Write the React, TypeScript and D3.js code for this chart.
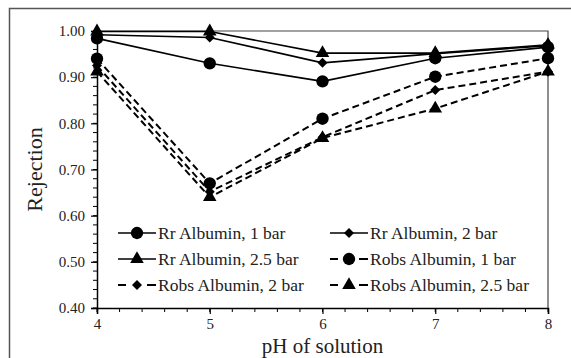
import { useRef, useEffect } from 'react';
import * as d3 from 'd3';

const phValues = [4, 5, 6, 7, 8];
const rrAlb1 = [0.984, 0.93, 0.891, 0.941, 0.965];
const rrAlb2 = [0.992, 0.986, 0.931, 0.951, 0.968];
const rrAlb25 = [0.999, 0.999, 0.952, 0.952, 0.97];
const robsAlb1 = [0.94, 0.67, 0.81, 0.901, 0.941];
const robsAlb2 = [0.925, 0.652, 0.77, 0.872, 0.912];
const robsAlb25 = [0.912, 0.64, 0.768, 0.832, 0.912];
const yTicks = [0.4, 0.5, 0.6, 0.7, 0.8, 0.9, 1.0];

type Sym = 'circle' | 'diamond' | 'triangle';
interface Series { name: string; values: number[]; symbol: Sym; dashed: boolean; }

const series: Series[] = [
  { name: 'Rr Albumin, 1 bar', values: rrAlb1, symbol: 'circle', dashed: false },
  { name: 'Rr Albumin, 2 bar', values: rrAlb2, symbol: 'diamond', dashed: false },
  { name: 'Rr Albumin, 2.5 bar', values: rrAlb25, symbol: 'triangle', dashed: false },
  { name: 'Robs Albumin, 1 bar', values: robsAlb1, symbol: 'circle', dashed: true },
  { name: 'Robs Albumin, 2 bar', values: robsAlb2, symbol: 'diamond', dashed: true },
  { name: 'Robs Albumin, 2.5 bar', values: robsAlb25, symbol: 'triangle', dashed: true },
];

const symbolGen = (s: Sym) => {
  if (s === 'circle') return d3.symbol(d3.symbolCircle, 120)();
  if (s === 'diamond') return d3.symbol(d3.symbolSquare, 50)();
  return d3.symbol(d3.symbolTriangle, 80)();
};
const symbolRot = (s: Sym) => (s === 'diamond' ? ' rotate(45)' : '');

export default function App() {
  const svgRef = useRef<SVGSVGElement>(null);

  useEffect(() => {
    if (!svgRef.current) return;
    const svg = d3.select(svgRef.current);
    svg.selectAll('*').remove();

    const width = 571;
    const margin = { top: 31, right: 23, left: 97 };
    const innerWidth = width - margin.left - margin.right;
    const innerHeight = 308 - margin.top;
    const font = '"Liberation Serif", "Times New Roman", serif';

    // outer frame
    svg.append('rect')
      .attr('x', 9.5).attr('y', 8.5)
      .attr('width', 600).attr('height', 400)
      .attr('fill', '#fff').attr('stroke', '#555').attr('stroke-width', 1.5);

    const x = d3.scaleLinear().domain([4, 8]).range([0, innerWidth]);
    const y = d3.scaleLinear().domain([0.4, 1.0]).range([innerHeight, 0]);

    const g = svg.append('g').attr('transform', `translate(${margin.left},${margin.top})`);

    // plot frame (top & right)
    g.append('path')
      .attr('d', `M0,0H${innerWidth}V${innerHeight}`)
      .attr('fill', 'none').attr('stroke', '#444').attr('stroke-width', 1.2);

    // minor ticks
    const yMinor = d3.range(0.4, 1.0001, 0.02);
    g.selectAll('.ymin').data(yMinor).enter().append('line')
      .attr('x1', -4).attr('x2', 0)
      .attr('y1', d => y(d)).attr('y2', d => y(d))
      .attr('stroke', '#000').attr('stroke-width', 1);
    const xMinor = d3.range(4, 8.0001, 0.2);
    g.selectAll('.xmin').data(xMinor).enter().append('line')
      .attr('x1', d => x(d)).attr('x2', d => x(d))
      .attr('y1', innerHeight).attr('y2', innerHeight + 4)
      .attr('stroke', '#000').attr('stroke-width', 1);

    // axes
    const yAxis = g.append('g')
      .call(d3.axisLeft(y).tickValues(yTicks).tickFormat(d3.format('.2f')).tickSize(6).tickPadding(6));
    const xAxis = g.append('g')
      .attr('transform', `translate(0,${innerHeight})`)
      .call(d3.axisBottom(x).tickValues(phValues).tickFormat(d3.format('d')).tickSize(6).tickPadding(4));
    [xAxis, yAxis].forEach(a => {
      a.select('.domain').attr('stroke', '#000').attr('stroke-width', 1.5);
      a.selectAll('text').attr('font-family', font).attr('font-size', 15).attr('fill', '#222');
      a.selectAll('.tick line').attr('stroke', '#000').attr('stroke-width', 1.2);
    });

    // series lines
    series.forEach(s => {
      const line = d3.line<number>().x((_, i) => x(phValues[i])).y(d => y(d));
      g.append('path')
        .datum(s.values)
        .attr('fill', 'none')
        .attr('stroke', '#000')
        .attr('stroke-width', s.dashed ? 2 : 1.6)
        .attr('stroke-dasharray', s.dashed ? '7,4' : null)
        .attr('d', line);
    });
    series.forEach(s => {
      g.selectAll(null).data(s.values).enter().append('path')
        .attr('transform', (d, i) => `translate(${x(phValues[i])},${y(d)})${symbolRot(s.symbol)}`)
        .attr('d', symbolGen(s.symbol))
        .attr('fill', '#000');
    });

    // legend
    const colX = [118, 330];
    const rowY = [233, 259, 285];
    series.forEach((s, i) => {
      const lx = colX[i % 2];
      const ly = rowY[Math.floor(i / 2)];
      const lg = svg.append('g').attr('transform', `translate(${lx},${ly})`);
      if (s.dashed) {
        lg.append('line').attr('x1', 0).attr('x2', 8).attr('y1', 0).attr('y2', 0)
          .attr('stroke', '#000').attr('stroke-width', 2);
        lg.append('line').attr('x1', 29).attr('x2', 38).attr('y1', 0).attr('y2', 0)
          .attr('stroke', '#000').attr('stroke-width', 2);
      } else {
        lg.append('line').attr('x1', 0).attr('x2', 38).attr('y1', 0).attr('y2', 0)
          .attr('stroke', '#000').attr('stroke-width', 1.6);
      }
      lg.append('path').attr('transform', `translate(19,0)${symbolRot(s.symbol)}`)
        .attr('d', symbolGen(s.symbol)).attr('fill', '#000');
      lg.append('text')
        .attr('x', 40).attr('y', 6)
        .attr('font-family', font).attr('font-size', 17.5).attr('fill', '#222')
        .text(s.name);
    });

    // axis titles
    svg.append('text')
      .attr('x', margin.left + innerWidth / 2).attr('y', 353)
      .attr('text-anchor', 'middle')
      .attr('font-family', font).attr('font-size', 21).attr('fill', '#222')
      .text('pH of solution');
    svg.append('text')
      .attr('transform', `translate(42,${margin.top + innerHeight / 2}) rotate(-90)`)
      .attr('text-anchor', 'middle')
      .attr('font-family', font).attr('font-size', 22).attr('fill', '#222')
      .text('Rejection');
  }, []);

  return (
    <svg
      ref={svgRef}
      width={571}
      height={358}
      style={{ position: 'absolute', left: 0, top: 0, background: '#fff' }}
    />
  );
}
